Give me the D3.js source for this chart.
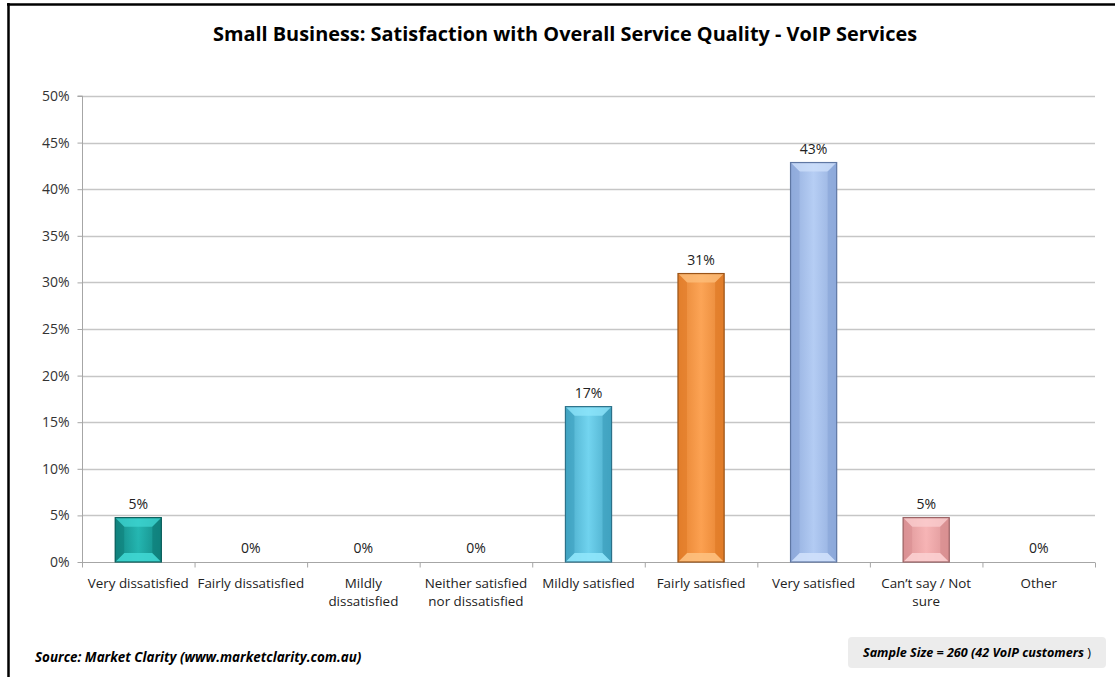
<!DOCTYPE html>
<html>
<head>
<meta charset="utf-8">
<script src="https://cdn.jsdelivr.net/npm/d3@7"></script>
<style>
  html, body { margin: 0; padding: 0; background: #fff; }
  svg { display: block; }
  text { font-family: "Open Sans", "Noto Sans", sans-serif; }
</style>
</head>
<body>
<script>
// ---- data ----
const categories = [
  "Very dissatisfied",
  "Fairly dissatisfied",
  "Mildly\ndissatisfied",
  "Neither satisfied\nnor dissatisfied",
  "Mildly satisfied",
  "Fairly satisfied",
  "Very satisfied",
  "Can\u2019t say / Not\nsure",
  "Other"
];
const values = [4.76, 0, 0, 0, 16.67, 30.95, 42.86, 4.76, 0];
const valueLabels = ["5%", "0%", "0%", "0%", "17%", "31%", "43%", "5%", "0%"];
const yTicks = [0, 5, 10, 15, 20, 25, 30, 35, 40, 45, 50];
const barColors = [
  {mid: "#22b3ae", edge: "#0e7d79", light: "#3fd6d2", stroke: "#0b5e5b"},
  {mid: "#22b3ae", edge: "#0e7d79", light: "#3fd6d2", stroke: "#0b5e5b"},
  {mid: "#22b3ae", edge: "#0e7d79", light: "#3fd6d2", stroke: "#0b5e5b"},
  {mid: "#22b3ae", edge: "#0e7d79", light: "#3fd6d2", stroke: "#0b5e5b"},
  {mid: "#6fd2ee", edge: "#3d9fbe", light: "#8fe6fb", stroke: "#2c7189"},
  {mid: "#fca050", edge: "#e07a26", light: "#fdc07e", stroke: "#9a5418"},
  {mid: "#b2cbf3", edge: "#8aa6d8", light: "#cfe0fb", stroke: "#5f77a3"},
  {mid: "#f6b2b3", edge: "#d78d8f", light: "#fbcfd0", stroke: "#9a6264"},
  {mid: "#cccccc", edge: "#999999", light: "#e0e0e0", stroke: "#666666"}
];
const titleText = "Small Business: Satisfaction with Overall Service Quality - VoIP Services";
const sourceText = "Source: Market Clarity (www.marketclarity.com.au)";
const sampleText = "Sample Size = 260 (42 VoIP customers";

// ---- layout ----
const W = 1115, H = 677;
const margin = {left: 82, right: 20, top: 96, bottom: 115};
const plotRight = 1095;
const svg = d3.select("body").append("svg").attr("width", W).attr("height", H);

// frame
svg.append("line").attr("x1", 8.5).attr("x2", 8.5).attr("y1", 3).attr("y2", H).attr("stroke", "#000").attr("stroke-width", 2.5);
svg.append("line").attr("x1", 7).attr("x2", W).attr("y1", 4.5).attr("y2", 4.5).attr("stroke", "#000").attr("stroke-width", 2.5);

// title
svg.append("text").attr("x", 565).attr("y", 41).attr("text-anchor", "middle")
  .style("font-family", "'Open Sans', sans-serif")
  .style("font-weight", "bold").style("font-size", "19.9px").attr("fill", "#000")
  .text(titleText);

const x = d3.scaleBand().domain(categories).range([margin.left, plotRight]).paddingInner(0.59).paddingOuter(0.295);
const xb = d3.scaleBand().domain(categories).range([margin.left, plotRight]);
const y = d3.scaleLinear().domain([0, 50]).range([562, 96]);

// gridlines
svg.append("g").selectAll("line").data(yTicks.filter(d => d > 0)).join("line")
  .attr("x1", margin.left).attr("x2", plotRight)
  .attr("y1", d => Math.round(y(d)) + 0.5).attr("y2", d => Math.round(y(d)) + 0.5)
  .attr("stroke", "#c6c6c6").attr("stroke-width", 1.3);

// y axis
const yAxis = d3.axisLeft(y).tickValues(yTicks).tickFormat(d => d + "%").tickSize(5).tickPadding(8);
const gy = svg.append("g").attr("transform", `translate(${margin.left + 0.5},0)`).call(yAxis);
gy.select(".domain").attr("stroke", "#a6a6a6").attr("d", `M-5,${y(50)}H0V${y(0)}`);
gy.selectAll(".tick line").attr("stroke", "#a6a6a6");
gy.selectAll(".tick text").attr("fill", "#333").style("font-size", "14px")
  .style("font-family", "'Open Sans', sans-serif");

// x axis
const gx = svg.append("g").attr("transform", `translate(0,${Math.round(y(0)) + 0.5})`);
gx.append("line").attr("x1", margin.left).attr("x2", plotRight).attr("stroke", "#a6a6a6").attr("stroke-width", 1.2);
const boundaries = categories.map(c => xb(c)).concat([plotRight]);
gx.selectAll("line.tk").data(boundaries).join("line").attr("class", "tk")
  .attr("x1", d => d + 0.5).attr("x2", d => d + 0.5).attr("y1", 0).attr("y2", 5)
  .attr("stroke", "#a6a6a6");
const xl = gx.selectAll("text.xl").data(categories).join("text").attr("class", "xl")
  .attr("x", d => xb(d) + xb.bandwidth() / 2).attr("y", 25)
  .attr("text-anchor", "middle").attr("fill", "#222").style("font-size", "13.4px");
xl.each(function(d) {
  const lines = d.split("\n");
  const t = d3.select(this);
  lines.forEach((ln, i) => {
    t.append("tspan").attr("x", xb(d) + xb.bandwidth() / 2).attr("dy", i === 0 ? 0 : 18).text(ln);
  });
});

// gradients
const defs = svg.append("defs");
barColors.forEach((c, i) => {
  const g = defs.append("linearGradient").attr("id", "g" + i).attr("x1", "0").attr("x2", "1").attr("y1", "0").attr("y2", "0");
  g.append("stop").attr("offset", "0%").attr("stop-color", c.edge);
  g.append("stop").attr("offset", "50%").attr("stop-color", c.mid);
  g.append("stop").attr("offset", "100%").attr("stop-color", c.edge);
  const gv = defs.append("linearGradient").attr("id", "v" + i).attr("x1", "0").attr("x2", "0").attr("y1", "0").attr("y2", "1");
  gv.append("stop").attr("offset", "0%").attr("stop-color", c.light);
  gv.append("stop").attr("offset", "100%").attr("stop-color", c.mid);
});

// bars
const data = categories.map((c, i) => ({c, v: values[i], label: valueLabels[i], i}));
const bars = svg.append("g").selectAll("g").data(data.filter(d => d.v > 0)).join("g");
bars.each(function(d) {
  const g = d3.select(this);
  const x0 = x(d.c), w = x.bandwidth(), y0 = y(d.v), y1 = y(0), h = y1 - y0;
  const b = Math.min(9, h / 3);
  const c = barColors[d.i];
  g.append("rect").attr("x", x0).attr("y", y0).attr("width", w).attr("height", h).attr("fill", `url(#v${d.i})`);
  g.append("rect").attr("x", x0).attr("y", y0).attr("width", w).attr("height", h).attr("fill", `url(#g${d.i})`).attr("opacity", 0.85);
  // bevels
  g.append("polygon").attr("points", [[x0, y0], [x0 + w, y0], [x0 + w - b, y0 + b], [x0 + b, y0 + b]].join(" "))
    .attr("fill", c.light).attr("opacity", 0.75);
  g.append("polygon").attr("points", [[x0, y1], [x0 + w, y1], [x0 + w - b, y1 - b], [x0 + b, y1 - b]].join(" "))
    .attr("fill", c.light).attr("opacity", 0.9);
  g.append("polygon").attr("points", [[x0, y0], [x0 + b, y0 + b], [x0 + b, y1 - b], [x0, y1]].join(" "))
    .attr("fill", c.edge).attr("opacity", 0.55);
  g.append("polygon").attr("points", [[x0 + w, y0], [x0 + w - b, y0 + b], [x0 + w - b, y1 - b], [x0 + w, y1]].join(" "))
    .attr("fill", c.edge).attr("opacity", 0.7);
  g.append("rect").attr("x", x0).attr("y", y0).attr("width", w).attr("height", h)
    .attr("fill", "none").attr("stroke", c.stroke).attr("stroke-width", 1.2);
});

// value labels
svg.append("g").selectAll("text").data(data).join("text")
  .attr("x", d => xb(d.c) + xb.bandwidth() / 2)
  .attr("y", d => y(d.v) - 9)
  .attr("text-anchor", "middle").attr("fill", "#222").style("font-size", "14px")
  .text(d => d.label);

// source
svg.append("text").attr("x", 35).attr("y", 662)
  .style("font-family", "'Open Sans', sans-serif")
  .style("font-weight", "bold").style("font-style", "italic").style("font-size", "13.4px").attr("fill", "#000")
  .text(sourceText);

// sample size box
svg.append("rect").attr("x", 848).attr("y", 637).attr("width", 258).attr("height", 31).attr("rx", 4)
  .attr("fill", "#ececec");
const st = svg.append("text").attr("x", 977).attr("y", 657).attr("text-anchor", "middle")
  .style("font-family", "'Open Sans', sans-serif")
  .style("font-size", "12.6px").style("font-style", "italic").attr("fill", "#000");
st.append("tspan").style("font-weight", "bold").text(sampleText + " ");
st.append("tspan").style("font-style", "normal").text(")");
</script>
</body>
</html>
